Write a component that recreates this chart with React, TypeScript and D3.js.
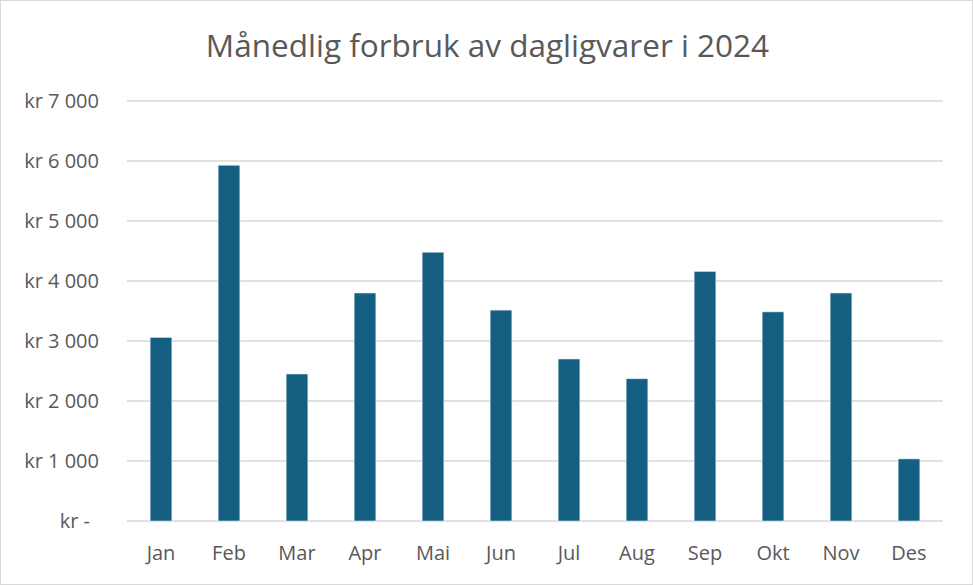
import React from "react";
import * as d3 from "d3";

const months = ["Jan", "Feb", "Mar", "Apr", "Mai", "Jun", "Jul", "Aug", "Sep", "Okt", "Nov", "Des"];
const spending = [3060, 5930, 2450, 3800, 4480, 3515, 2700, 2370, 4160, 3485, 3800, 1035];
const yTicks = [0, 1000, 2000, 3000, 4000, 5000, 6000, 7000];
const title = "Månedlig forbruk av dagligvarer i 2024";

const W = 973, H = 585;
const M = { left: 127, right: 30, top: 101, bottom: 64 };
const FONT = "'Open Sans', 'Noto Sans', sans-serif";

function fmt(v: number) {
  if (v === 0) return "kr -";
  const s = String(v).replace(/\B(?=(\d{3})+(?!\d))/g, " ");
  return "kr " + s;
}

export default function App() {
  const x = d3.scaleBand<string>().domain(months).range([M.left, W - M.right]).paddingInner(0.68).paddingOuter(0.34);
  const y = d3.scaleLinear().domain([0, 7000]).range([H - M.bottom, M.top]);
  return (
    <svg width={W} height={H} style={{ position: "absolute", left: 0, top: 0 }}>
      <rect x={0.5} y={0.5} width={W - 1} height={H - 1} fill="#fff" stroke="#d9d9d9" />
      <text x={W / 2 + 1} y={57} textAnchor="middle" fontFamily={FONT} fontSize={31.5} fill="#595959">{title}</text>
      {yTicks.map((t) => (
        <g key={t}>
          <line x1={M.left} x2={W - M.right} y1={y(t)} y2={y(t)} stroke="#d9d9d9" strokeWidth={1.3} />
          <text x={t === 0 ? 90 : 99} y={y(t)} dy="0.35em" textAnchor="end" fontFamily={FONT} fontSize={20} fill="#595959">{fmt(t)}</text>
        </g>
      ))}
      {months.map((m, i) => (
        <rect key={m} x={x(m)} y={y(spending[i])} width={x.bandwidth()} height={y(0) - y(spending[i])} fill="#156082" stroke="#dbe6ee" strokeWidth={0.6} />
      ))}
      {months.map((m) => (
        <text key={m} x={(x(m) as number) + x.bandwidth() / 2} y={560} textAnchor="middle" fontFamily={FONT} fontSize={20} fill="#595959">{m}</text>
      ))}
    </svg>
  );
}
